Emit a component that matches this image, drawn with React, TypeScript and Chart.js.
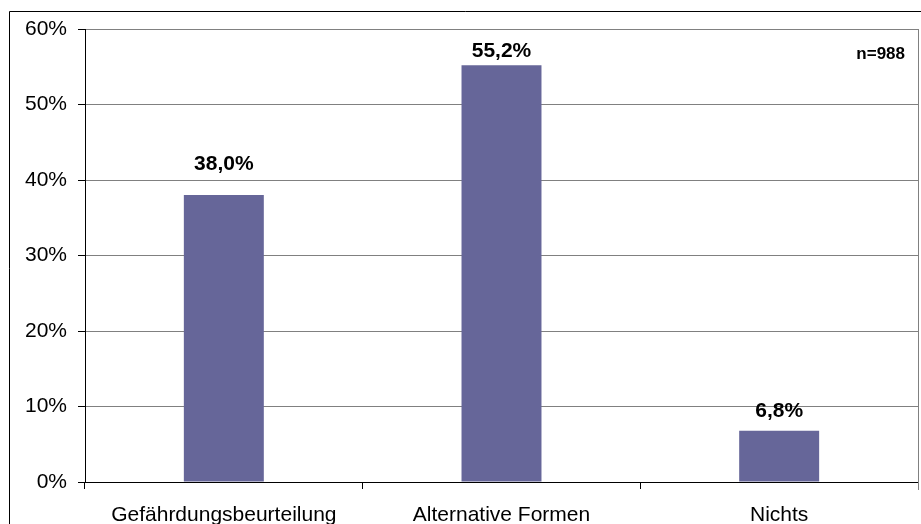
import React, { useEffect, useRef } from "react";
import { Chart, registerables } from "chart.js";

Chart.register(...registerables);

const categories = ["Gefährdungsbeurteilung", "Alternative Formen", "Nichts"];
const values = [38.0, 55.2, 6.8];
const valueLabels = ["38,0%", "55,2%", "6,8%"];
const sampleNote = "n=988";
const yMax = 60;
const yStep = 10;

const FONT = "'Liberation Sans', Arial, sans-serif";

const decorPlugin = {
  id: "decor",
  afterDatasetsDraw(chart: any, _args: any, opts: any) {
    const ctx = chart.ctx;
    const area = chart.chartArea;
    const meta = chart.getDatasetMeta(0);
    ctx.save();
    // plot area right border
    ctx.strokeStyle = "#808080";
    ctx.lineWidth = 1;
    ctx.beginPath();
    const rx = Math.round(area.right) + 0.5;
    ctx.moveTo(rx, area.top);
    ctx.lineTo(rx, area.bottom + 8);
    ctx.stroke();
    // outer border
    ctx.strokeStyle = "#000000";
    ctx.beginPath();
    ctx.moveTo(9.5, chart.height + 1);
    ctx.lineTo(9.5, 11.5);
    ctx.lineTo(chart.width + 1, 11.5);
    ctx.stroke();
    // data labels
    ctx.fillStyle = "#000000";
    ctx.font = `bold 21px ${FONT}`;
    ctx.textAlign = "center";
    ctx.textBaseline = "middle";
    const offs = opts.labelOffsets || [];
    meta.data.forEach((bar: any, i: number) => {
      ctx.fillText(valueLabels[i], bar.x, bar.y + (offs[i] ?? -20));
    });
    // sample note
    ctx.font = `bold 17px ${FONT}`;
    ctx.textAlign = "right";
    ctx.fillText(sampleNote, area.right - 13, 54);
    ctx.restore();
  },
};

export default function App() {
  const ref = useRef<HTMLCanvasElement>(null);
  useEffect(() => {
    const canvas = ref.current;
    if (!canvas) return;
    const chart = new Chart(canvas, {
      type: "bar",
      data: {
        labels: categories,
        datasets: [
          {
            data: values,
            backgroundColor: "#666699",
            borderWidth: 0,
            categoryPercentage: 1,
            barPercentage: 0.288,
          },
        ],
      },
      plugins: [decorPlugin],
      options: {
        responsive: false,
        animation: false,
        devicePixelRatio: 1,
        layout: { padding: { top: 29, right: 3, left: 0, bottom: 0 } },
        plugins: {
          legend: { display: false },
          tooltip: { enabled: false },
          decor: { labelOffsets: [-31, -14.5, -19] },
        } as any,
        scales: {
          x: {
            offset: true,
            grid: {
              offset: true,
              drawOnChartArea: false,
              drawTicks: true,
              tickLength: 7,
              tickColor: "#000000",
            },
            border: { color: "#000000", width: 1 },
            ticks: {
              color: "#000000",
              font: { family: FONT, size: 21 },
              padding: 14,
              maxRotation: 0,
              autoSkip: false,
            },
            afterFit(scale: any) {
              scale.height = 42;
            },
          },
          y: {
            min: 0,
            max: yMax,
            grid: {
              color: "#808080",
              tickColor: "#000000",
              tickLength: 7,
              lineWidth: 1,
            },
            border: { color: "#000000", width: 1 },
            ticks: {
              stepSize: yStep,
              color: "#000000",
              font: { family: FONT, size: 21 },
              padding: 11,
              callback: (v: any) => `${v}%`,
            },
            afterFit(scale: any) {
              scale.width = 85;
            },
          },
        },
      },
    });
    return () => chart.destroy();
  }, []);
  return (
    <div style={{ position: "absolute", left: 0, top: 0, width: 921, height: 524, background: "#ffffff" }}>
      <canvas ref={ref} width={921} height={524} style={{ display: "block" }} />
    </div>
  );
}
